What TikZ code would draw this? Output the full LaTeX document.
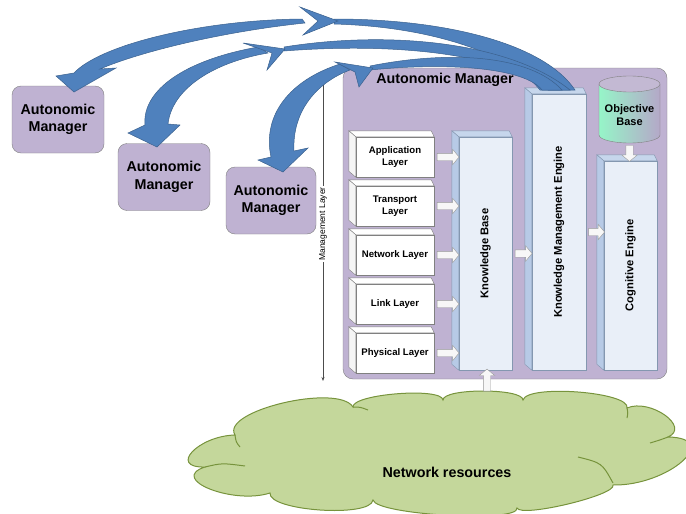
\documentclass[tikz,border=0pt]{standalone}
\usepackage{fontspec}
\setmainfont{Liberation Sans}
\usetikzlibrary{arrows.meta, shapes.arrows, calc}
\definecolor{ampurple}{RGB}{191,178,210}
\definecolor{amblue}{RGB}{79,129,189}
\definecolor{slabfront}{RGB}{233,239,248}
\definecolor{slabside}{RGB}{183,202,230}
\definecolor{slabtop}{RGB}{198,214,236}
\definecolor{slabline}{RGB}{132,151,176}
\definecolor{cloudgreen}{RGB}{196,215,155}
\definecolor{cloudline}{RGB}{119,147,60}
\definecolor{obgreen}{RGB}{150,245,200}
\definecolor{obgray}{RGB}{180,168,200}
\tikzset{
 manager/.style={draw=gray, fill=ampurple, rounded corners=9pt, minimum width=92pt,
   minimum height=67pt, align=center, font=\fontsize{14.3}{17.5}\selectfont\bfseries},
 layerbox/.style={draw=gray, fill=white, minimum width=78pt, minimum height=40pt,
   inner sep=0pt, align=center, font=\fontsize{9.6}{12}\selectfont\bfseries},
 slab/.style={draw=slabline, fill=slabfront, inner sep=0pt},
 slabtext/.style={rotate=90, font=\fontsize{11.2}{13}\selectfont\bfseries},
 fatarrow/.style={single arrow, draw=gray!80, fill=gray!6, inner xsep=0pt, inner ysep=3.5pt,
   single arrow head extend=4pt, single arrow tip angle=100, minimum height=#1},
 bluearrow/.style={fill=amblue, draw=amblue!75!black, line width=0.5pt},
}
% top and left faces of a box
\newcommand{\depthfaces}[4]{%
  \filldraw[fill=#2, draw=#4] (#1.north west) -- ++(-7,-6) -- ($(#1.north east)+(-3,-6)$) -- (#1.north east) -- cycle;
  \filldraw[fill=#3, draw=#4] (#1.north west) -- ++(-7,-6) -- ($(#1.south west)+(-7,-6)$) -- (#1.south west) -- cycle;
}

\begin{document}
\begin{tikzpicture}[x=1pt, y=-1pt]
    \useasboundingbox (0,0) rectangle (686,514);

    % the other managers
    \node[manager] (am1) at (58,119.5) {Autonomic\\Manager};
    \node[manager] (am2) at (164,177) {Autonomic\\Manager};
    \node[manager, minimum width=90pt] (am3) at (271,200.5) {Autonomic\\Manager};

    % this manager
    \node[draw=gray, fill=ampurple, rounded corners=10pt, minimum width=324pt, minimum height=311pt] (amain) at (505,223.5) {};
    \node[font=\fontsize{14.3}{17}\selectfont\bfseries] (amtitle) at (445,80) {Autonomic Manager};

    % management layer
    \coordinate (mtop) at (323,74);
    \coordinate (mbot) at (323,381);
    \draw[{Stealth[length=4pt,width=3pt]}-{Stealth[length=4pt,width=3pt]}, black!70, line width=0.6pt] (mtop) -- (mbot);
    \node[rotate=90, fill=white, inner sep=1pt, font=\fontsize{8.5}{10}\selectfont] (mlabel) at (323,224) {Management Layer};

    % protocol layers
    \foreach \n/\y/\t in {app/157/{Application\\Layer}, trans/206/{Transport\\Layer},
                          net/255/{Network Layer}, link/304/{Link Layer}, phys/353/{Physical Layer}} {
        \node[layerbox] (\n) at (395,\y) {\t};
        \depthfaces{\n}{white}{gray!8}{gray}
    }

    % bases and engines
    \node[slab, minimum width=53pt, minimum height=233pt] (kb) at (485.5,253.5) {};
    \depthfaces{kb}{slabtop}{slabside}{slabline}
    \node[slabtext] at (kb) {Knowledge Base};
    \node[slab, minimum width=54pt, minimum height=276pt] (kme) at (559,232) {};
    \depthfaces{kme}{slabtop}{slabside}{slabline}
    \node[slabtext] at (kme) {Knowledge Management Engine};
    \node[slab, minimum width=53pt, minimum height=209pt] (ce) at (630.5,265.5) {};
    \depthfaces{ce}{slabtop}{slabside}{slabline}
    \node[slabtext] at (ce) {Cognitive Engine};

    % objective base
    \shade[left color=obgreen, right color=obgray] (599,84) -- (599,135)
        arc[start angle=180, end angle=0, x radius=30.5, y radius=8] -- (660,84) -- cycle;
    \draw[gray] (599,84) -- (599,135) arc[start angle=180, end angle=0, x radius=30.5, y radius=8] -- (660,84);
    \filldraw[fill=obgray!80!white, draw=gray] (629.5,84) ellipse [x radius=30.5, y radius=8];
    \node[align=center, font=\fontsize{11}{13.5}\selectfont\bfseries] (ob) at (629.5,115) {Objective\\Base};
    \coordinate (obbot) at (629.5,143);

    % network resources
    \draw[cloudline, fill=cloudgreen, line width=1pt] (235,435)
        .. controls (220,411) and (338,383) .. (353,407)
        .. controls (352,394) and (442,387) .. (443,400)
        .. controls (443,388) and (523,388) .. (523,400)
        .. controls (527,384) and (631,392) .. (627,408)
        .. controls (650,398) and (691,427) .. (668,437)
        .. controls (723,438) and (668,486) .. (613,485)
        .. controls (617,495) and (521,518) .. (517,508)
        .. controls (520,523) and (376,515) .. (373,500)
        .. controls (371,518) and (268,511) .. (270,493)
        .. controls (233,505) and (168,479) .. (205,467)
        .. controls (168,468) and (198,436) .. (235,435) -- cycle;
    \draw[cloudline, line width=1pt] (205,467) .. controls (222,463) .. (245,466);
    \draw[cloudline, line width=1pt] (235,435) .. controls (236,442) .. (240,447);
    \draw[cloudline, line width=1pt] (353,407) .. controls (360,407) .. (368,410);
    \draw[cloudline, line width=1pt] (627,408) .. controls (628,413) .. (627,418);
    \draw[cloudline, line width=1pt] (668,437) .. controls (660,440) .. (650,443);
    \draw[cloudline, line width=1pt] (613,483) .. controls (602,463) .. (578,457);
    \node[font=\fontsize{14.3}{17}\selectfont\bfseries] (nrlabel) at (447,472) {Network resources};
    \coordinate (nrtop) at (487,393);

    % white arrows
    \foreach \n in {app,trans,net,link,phys}
        \path (\n.east) -- node[fatarrow=22pt, sloped] {} (\n.east -| kb.west);
    \path (kb.east) -- node[fatarrow=17pt, sloped] {} (kb.east -| kme.west);
    \path (kme.east) -- node[fatarrow=16pt, sloped] {} (kme.east -| ce.west);
    \path (obbot) -- node[fatarrow=16pt, sloped] {} (obbot |- ce.north);
    \path (nrtop) -- node[fatarrow=22pt, sloped] {} (nrtop |- kb.south);

    % blue curved arrows
    \draw[bluearrow] (74,73) .. controls (100,45) and (200,20) .. (302,19) -- (305,23)
        .. controls (220,32) and (140,52) .. (100,69) -- (116,68) -- (74,92) -- (56,76) -- cycle;
    \draw[bluearrow] (334,19) .. controls (450,19) and (545,45) .. (575,90) -- (540,90)
        .. controls (515,58) and (440,27) .. (334,24) -- cycle;
    \draw[bluearrow] (300,7) -- (338,21) -- (303,35) -- (318,21) -- cycle;

    \draw[bluearrow] (145,125) .. controls (142,90) and (185,60) .. (258,47) -- (268,53)
        .. controls (215,62) and (172,88) .. (168,124) -- (180,125) -- (157,147) -- (128,133) -- cycle;
    \draw[bluearrow] (284,47) .. controls (390,30) and (510,42) .. (570,90) -- (548,90)
        .. controls (505,55) and (400,42) .. (284,51) -- cycle;
    \draw[bluearrow] (243,43) -- (285,49) -- (267,70) -- (272,53) -- cycle;

    \draw[bluearrow] (271,157) .. controls (262,115) and (290,80) .. (340,64) -- (350,70)
        .. controls (318,82) and (292,110) .. (294,151) -- (308,148) -- (283,172) -- (258,160) -- cycle;
    \draw[bluearrow] (370,66) .. controls (450,50) and (530,55) .. (562,90) -- (542,90)
        .. controls (525,68) and (450,62) .. (370,70) -- cycle;
    \draw[bluearrow] (335,62) -- (373,68) -- (359,87) -- (355,72) -- cycle;
\end{tikzpicture}
\end{document}
